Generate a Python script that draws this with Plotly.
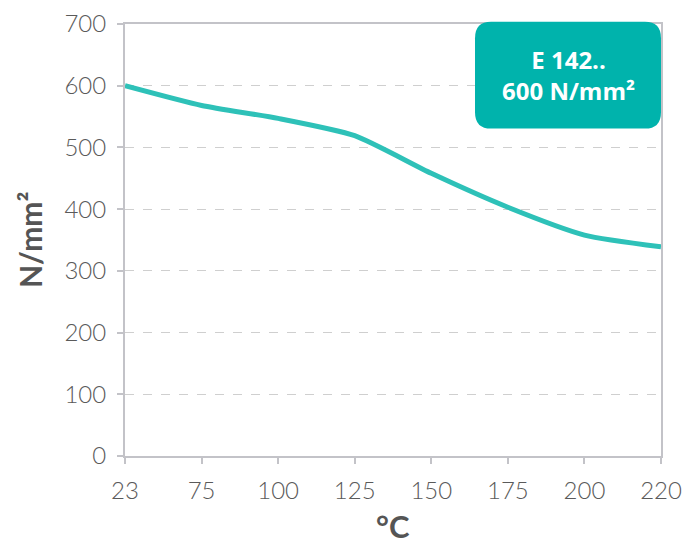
import plotly.graph_objects as go

temps = ["23", "75", "100", "125", "150", "175", "200", "220"]
strength = [600, 568, 547, 519, 458, 403, 358, 339]
y_ticks = [0, 100, 200, 300, 400, 500, 600, 700]
badge_text = "E 142..<br>600 N/mm²"
x_title = "°C"
y_title = "N/mm²"

line_color = "#2EC1B8"
badge_color = "#00B3AC"
axis_color = "#C3C3C8"
grid_color = "#CFCFCF"
tick_color = "#5A5A5A"
title_color = "#555555"

fig = go.Figure()
fig.add_trace(go.Scatter(
    x=temps, y=strength, mode="lines",
    line=dict(color=line_color, width=5, shape="spline", smoothing=0.6),
    hoverinfo="skip", showlegend=False,
))

# rounded badge (paper coords)
x0, x1, y0, y1 = 0.653, 1.0, 0.758, 1.005
rx, ry = 0.030, 0.038
path = (f"M {x0+rx},{y0} L {x1-rx},{y0} Q {x1},{y0} {x1},{y0+ry} "
        f"L {x1},{y1-ry} Q {x1},{y1} {x1-rx},{y1} "
        f"L {x0+rx},{y1} Q {x0},{y1} {x0},{y1-ry} "
        f"L {x0},{y0+ry} Q {x0},{y0} {x0+rx},{y0} Z")
fig.add_shape(type="path", path=path, xref="paper", yref="paper",
              fillcolor=badge_color, line=dict(width=0), layer="above")
fig.add_annotation(x=(x0 + x1) / 2, y=(y0 + y1) / 2, xref="paper", yref="paper",
                   xanchor="center", yanchor="middle",
                   text=badge_text, showarrow=False,
                   font=dict(family="Open Sans", size=24, color="white", weight="bold"),
                   align="center")

# axis titles
fig.add_annotation(x=0.5, y=0, xref="paper", yref="paper", xanchor="center",
                   yanchor="middle", yshift=-70, text=x_title, showarrow=False,
                   font=dict(family="Lato", size=31, color=title_color, weight="bold"))
fig.add_annotation(x=0, y=0.5, xref="paper", yref="paper", xanchor="center",
                   yanchor="middle", xshift=-95, textangle=-90, text=y_title,
                   showarrow=False,
                   font=dict(family="Lato", size=30, color=title_color, weight="bold"))

fig.update_layout(
    width=685, height=544,
    margin=dict(l=125, r=24, t=24, b=88),
    plot_bgcolor="white", paper_bgcolor="white",
    font=dict(family="Lato", color=tick_color),
    xaxis=dict(
        type="category", range=[0, 7], automargin=False,
        showgrid=False, showline=True, linecolor=axis_color, linewidth=2,
        mirror=True, ticks="outside", ticklen=6, tickcolor=axis_color, tickwidth=2,
        ticklabelstandoff=6,
        tickfont=dict(size=24, color=tick_color, weight=300),
        zeroline=False,
    ),
    yaxis=dict(
        range=[0, 700], tickvals=y_ticks, automargin=False,
        showgrid=True, gridcolor=grid_color, griddash="dash", gridwidth=1,
        showline=True, linecolor=axis_color, linewidth=2, mirror=True,
        ticks="outside", ticklen=6, tickcolor=axis_color, tickwidth=2,
        ticklabelstandoff=6,
        tickfont=dict(size=24, color=tick_color, weight=300),
        zeroline=False,
    ),
)

fig.write_html(
    "out.html",
    config={"displayModeBar": False, "staticPlot": True},
    post_script="document.body.style.margin='0';document.body.style.overflow='hidden';",
)
